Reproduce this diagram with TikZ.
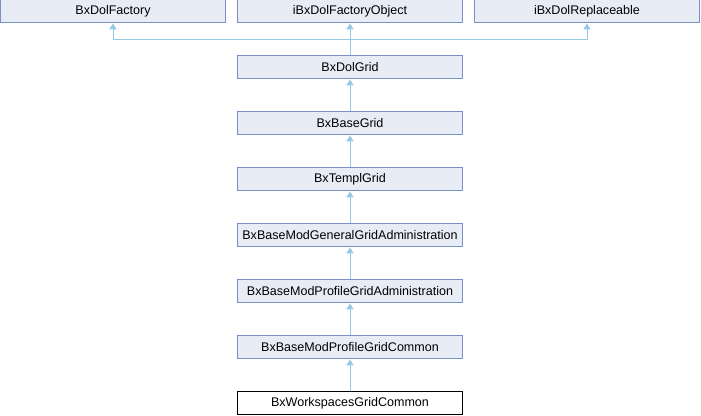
\documentclass[tikz,border=0pt]{standalone}
\usepackage{fontspec}
\setmainfont{Liberation Sans}
\usetikzlibrary{arrows.meta}
\definecolor{boxfill}{HTML}{E8ECF5}
\definecolor{boxline}{HTML}{7A8FC6}
\definecolor{edgecol}{HTML}{97C8E4}
\begin{document}
\begin{tikzpicture}[x=0.75pt,y=-0.75pt,
  cls/.style={draw=boxline,fill=boxfill,line width=0.75pt,minimum width=225*0.75pt,minimum height=23*0.75pt,inner sep=0pt,font=\fontsize{9.4pt}{11pt}\selectfont},
  curcls/.style={cls,draw=black,fill=white},
  edge/.style={draw=edgecol,line width=0.75pt,-{Triangle[length=4.5pt,width=5.5pt,fill=edgecol]}}]
\useasboundingbox (0,0) rectangle (701,416);
\node[cls] (fac) at (113,11.5) {BxDolFactory};
\node[cls] (fobj) at (350,11.5) {iBxDolFactoryObject};
\node[cls] (repl) at (587,11.5) {iBxDolReplaceable};
\node[cls] (dolgrid) at (350,67.5) {BxDolGrid};
\node[cls] (basegrid) at (350,123.5) {BxBaseGrid};
\node[cls] (templ) at (350,179.5) {BxTemplGrid};
\node[cls] (general) at (350,235.5) {BxBaseModGeneralGridAdministration};
\node[cls] (profadm) at (350,291.5) {BxBaseModProfileGridAdministration};
\node[cls] (profcom) at (350,347.5) {BxBaseModProfileGridCommon};
\node[curcls] (ws) at (350,403.5) {BxWorkspacesGridCommon};
\coordinate (j) at (350,40);
\draw[edge] (dolgrid.north) -- (j) -| (fac.south);
\draw[edge] (dolgrid.north) -- (fobj.south);
\draw[edge] (j) -| (repl.south);
\draw[edge] (basegrid.north) -- (dolgrid.south);
\draw[edge] (templ.north) -- (basegrid.south);
\draw[edge] (general.north) -- (templ.south);
\draw[edge] (profadm.north) -- (general.south);
\draw[edge] (profcom.north) -- (profadm.south);
\draw[edge] (ws.north) -- (profcom.south);
\end{tikzpicture}
\end{document}
